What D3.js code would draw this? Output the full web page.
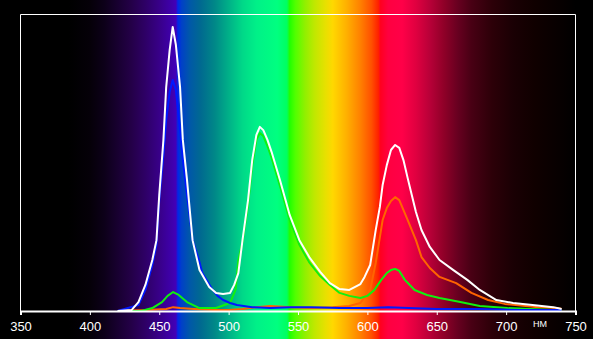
<!DOCTYPE html>
<html>
<head>
<meta charset="utf-8">
<script src="https://cdn.jsdelivr.net/npm/d3@7"></script>
<style>
  body { margin: 0; background: #000; }
  svg { display: block; }
</style>
</head>
<body>
<script>
// DATA (wavelength in nm, intensity in % of the frame height)

const whiteNm = [420,430,435,440,445,448,450,453,455,457.5,459.7,462,465,467,470,474,479,483,486,491,496,501,504,507,510,514,517,520,522.5,525,528,531,537,544,551,558.5,566,573,580,587,595,598,602,606,609,611,614,617,620,623,626,629,632,635,639,645,652,662,672,681,693,705,719,734,740];
const whiteVal = [0,0.3,3.0,8.8,17.2,23.9,39.1,57.7,75.5,88.0,95.8,89.7,75.5,57.7,44.2,23.9,13.8,10.5,8.1,6.1,5.7,6.1,8.8,12.8,23.9,37.4,50.9,59.4,62.1,61.0,57.7,53.6,44.2,32.4,23.9,17.9,13.2,9.4,7.4,7.1,9.1,11.5,15.5,27.3,35.1,42.5,49.2,54.3,56.0,55.0,50.9,44.9,39.1,33.4,27.3,21.6,17.2,13.8,10.5,7.1,3.7,2.7,2.0,1.3,0.7];

const redNm = [420,440,455,460,465,475,490,500,510,520,530,545,560,575,587,595,602,606,611,614,617,620,623,629,635,639,645,652,664,675,687,699,723,737,740];
const redVal = [0,0.3,0.7,1.3,1.0,0.7,0.3,0.3,0.7,1.3,1.7,1.3,1.0,1.3,1.7,2.7,7.1,16.2,30.7,34.7,37.1,38.4,37.4,30.7,23.9,18.2,14.5,11.5,9.4,6.1,3.7,2.4,1.3,1.0,0.7];

const greenNm = [420,437,445,452,456,460,464,470,479,491,501,505,507,510,514,517,520,522.5,525,528,531,537,544,551,558,566,573,580,587,595,600,605,610,614,617,620,623,627,634,643,652,667,681,701,734,740];
const greenVal = [0,0,1.0,3.0,5.1,6.4,5.4,3.0,1.0,1.0,2.7,7.1,17.2,23.3,35.8,49.2,57.7,60.0,59.0,55.6,51.6,42.2,30.7,22.3,16.5,11.8,8.8,6.1,5.1,4.4,5.1,7.1,10.5,12.8,13.8,14.2,13.5,10.5,7.1,5.4,4.4,3.0,1.7,1.0,0.3,0.3];

const blueNm = [420,435,440,445,448,450,453,455,457.5,459.7,462,465,467,470,474,479,481,485,488.5,492,496,501,506,517,530,545,560,580,600,615,630,650,680,710,740];
const blueVal = [0,2.0,7.1,15.5,22.3,37.4,52.6,64.4,73.9,77.9,74.5,61.0,50.9,39.1,23.9,16.5,12.8,9.8,7.1,5.1,3.7,2.7,2.0,1.3,1.0,1.3,1.3,1.0,1.0,1.3,1.0,0.7,0.7,0.3,0.3];

const xTicks = [350,400,450,500,550,600,650,700,750];
const unitLabel = 'НМ';

// spectrum colours behind the plot
const spectrumNm = [350,385,400,410,420,430,440,450,458,462,463.5,466,472,480,490,500,510,520,535,542,544,548,555,562,570,575,585,595,603,608,609.5,615,625,635,645,655,665,675,690,705,720,740,750];
const spectrumCol = ['#000000','#000000','#050008','#0c0018','#180030','#240048','#2e0066','#380088','#3e00a8','#4200b8','#0028e8','#0040c8','#0058a8','#006a90','#008888','#00b088','#00d888','#00f088','#00ff80','#00ff60','#20ff00','#50ff00','#90f000','#c0e800','#e8e000','#ffd800','#ffb000','#ff8000','#ff5000','#ff2000','#ff0020','#ff0040','#ff0048','#e00040','#b80038','#900028','#680020','#480014','#2c0008','#1a0004','#100000','#060000','#000000'];

// SETUP

const width = 593, height = 339;
const frame = {left: 20.5, right: 575.5, top: 14.5, bottom: 311};

const svg = d3.select('body')
              .append('svg')
              .attr('width', width)
              .attr('height', height)
              .style('background', '#000');

const x = d3.scaleLinear()
            .domain([350, 750])
            .range([frame.left, frame.right]);

const y = d3.scaleLinear()
            .domain([0, 100])
            .range([frame.bottom, frame.top]);

// gradient along the x scale, so colours sit on their wavelengths
const grad = svg.append('defs')
                .append('linearGradient')
                .attr('id', 'spectrum')
                .attr('gradientUnits', 'userSpaceOnUse')
                .attr('x1', x(350)).attr('y1', 0)
                .attr('x2', x(750)).attr('y2', 0);

grad.selectAll('stop')
    .data(spectrumNm)
    .enter()
    .append('stop')
    .attr('offset', d => (d - 350) / 400)
    .attr('stop-color', (d, i) => spectrumCol[i]);

svg.append('rect')
   .attr('x', 0).attr('y', 0)
   .attr('width', frame.right + 1).attr('height', height)
   .attr('fill', 'url(#spectrum)');

// CURVES

const line = d3.line()
               .x(d => x(d[0]))
               .y(d => y(d[1]));

const series = [
  {nm: redNm, val: redVal, color: '#ff6400'},
  {nm: greenNm, val: greenVal, color: '#10f010'},
  {nm: blueNm, val: blueVal, color: '#0018ff'},
  {nm: whiteNm, val: whiteVal, color: '#ffffff'}
];

svg.selectAll('path.curve')
   .data(series)
   .enter()
   .append('path')
   .attr('class', 'curve')
   .attr('d', s => line(s.nm.map((n, i) => [n, s.val[i]])))
   .attr('fill', 'none')
   .attr('stroke', s => s.color)
   .attr('stroke-width', 2)
   .attr('stroke-linejoin', 'round');

// FRAME + AXIS

svg.append('path')
   .attr('d', `M${frame.left},${frame.bottom}V${frame.top}H${frame.right}V${frame.bottom}`)
   .attr('fill', 'none')
   .attr('stroke', '#fff')
   .attr('stroke-width', 1);

const axeX = d3.axisBottom(x)
               .tickValues(xTicks)
               .tickSize(4)
               .tickPadding(7)
               .tickFormat(d3.format('d'));

const groupeX = svg.append('g')
                   .attr('transform', `translate(0, ${frame.bottom})`)
                   .call(axeX);

groupeX.select('.domain')
       .attr('stroke', '#fff')
       .attr('stroke-width', 2);
groupeX.selectAll('line').attr('stroke', '#fff');
groupeX.selectAll('text')
       .attr('fill', '#fff')
       .style('font-family', '"Liberation Sans", Arial, sans-serif')
       .style('font-size', '13px');

svg.append('text')
   .attr('x', 540)
   .attr('y', 327)
   .attr('text-anchor', 'middle')
   .attr('fill', '#fff')
   .style('font-family', '"Liberation Sans", Arial, sans-serif')
   .style('font-size', '9px')
   .text(unitLabel);
</script>
</body>
</html>
